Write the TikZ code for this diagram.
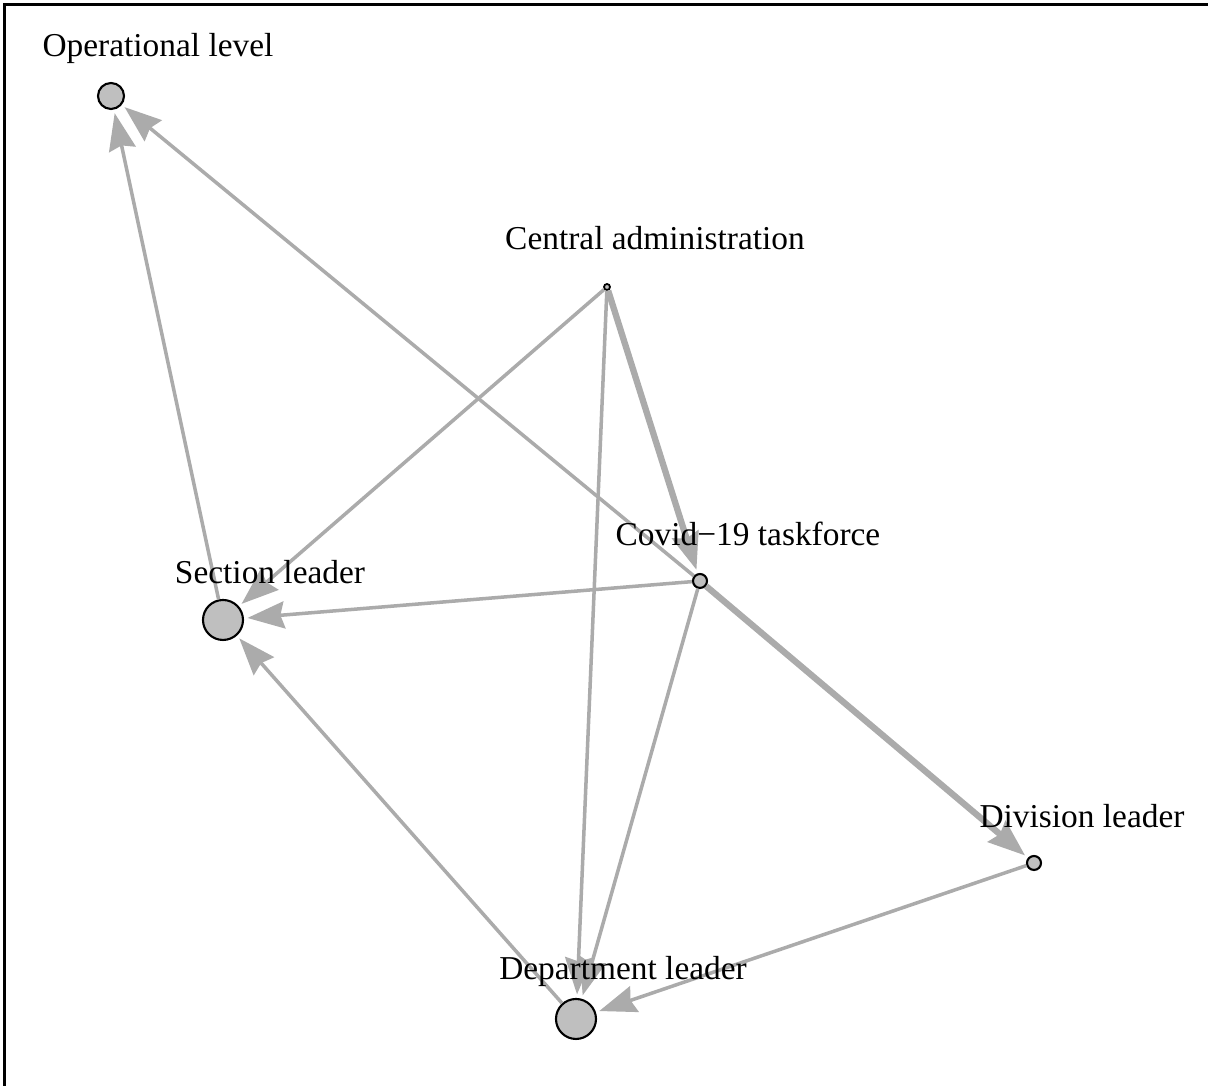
\documentclass[tikz,border=0pt]{standalone}
\usepackage{fontspec}
\setmainfont{Liberation Serif}
\usetikzlibrary{arrows.meta}

\begin{document}
\begin{tikzpicture}[
    actor/.style={circle, draw, line width=0.6pt, fill=black!25, inner sep=0pt},
    lbl/.style={anchor=base, font=\fontsize{9.5}{11}\selectfont, inner sep=0pt},
    tie/.style={draw=black!33, line width=1pt, shorten >=1pt,
        -{Stealth[length=3.7mm, width=2.7mm, inset=0.4mm]}},
    strongtie/.style={tie, line width=1.8pt}
]

    \useasboundingbox (0,0) rectangle (12.08,10.86);
    \draw[line width=0.9pt] (0.045,0) -- (0.045,10.815) -- (12.08,10.815);

    \node[actor, minimum size=0.26cm] (oper) at (1.11,9.90) {};
    \node[actor, minimum size=0.06cm, line width=0.5pt] (central) at (6.07,7.99) {};
    \node[actor, minimum size=0.14cm] (covid) at (7.00,5.05) {};
    \node[actor, minimum size=0.40cm] (section) at (2.23,4.66) {};
    \node[actor, minimum size=0.14cm] (division) at (10.34,2.23) {};
    \node[actor, minimum size=0.40cm] (department) at (5.76,0.67) {};

    \draw[tie] (section) -- (oper);
    \draw[tie] (covid) -- (oper);

    \draw[strongtie] (central) -- (covid);
    \draw[tie] (central) -- (section);
    \draw[tie] (central) -- (department);

    \draw[tie] (covid) -- (section);
    \draw[tie] (covid) -- (department);
    \draw[strongtie] (covid) -- (division);

    \draw[tie] (department) -- (section);
    \draw[tie] (division) -- (department);

    \node[lbl] (operlbl) at (1.58,10.29) {Operational level};
    \node[lbl] (centrallbl) at (6.55,8.36) {Central administration};
    \node[lbl] (covidlbl) at (7.48,5.40) {Covid\textminus 19 taskforce};
    \node[lbl] (sectionlbl) at (2.70,5.02) {Section leader};
    \node[lbl] (divisionlbl) at (10.82,2.58) {Division leader};
    \node[lbl] (departmentlbl) at (6.23,1.06) {Department leader};

\end{tikzpicture}
\end{document}
